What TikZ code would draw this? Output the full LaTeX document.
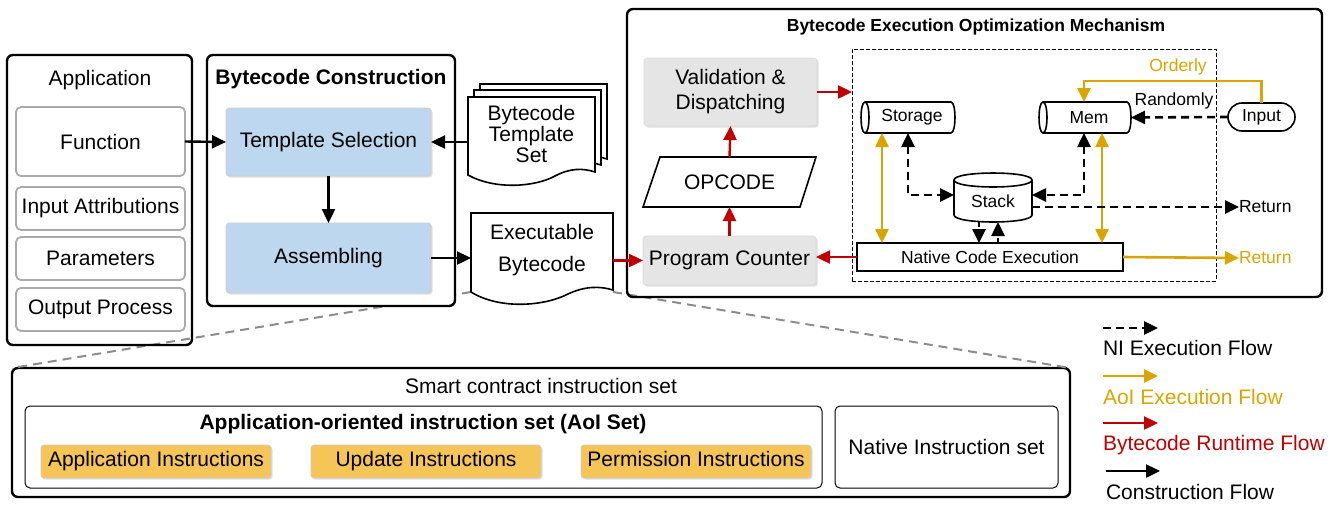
\documentclass[tikz,border=0pt]{standalone}
\usepackage{fontspec}
\setmainfont{Liberation Sans}
\usetikzlibrary{arrows.meta,shadows,calc}
\definecolor{gold}{RGB}{218,165,0}
\definecolor{rred}{RGB}{192,0,0}
\definecolor{lblue}{RGB}{189,215,238}
\definecolor{lgray}{RGB}{229,229,229}
\definecolor{yel}{RGB}{246,197,88}
\definecolor{bgray}{RGB}{170,170,170}
\definecolor{zgray}{RGB}{140,140,140}
\begin{document}
\begin{tikzpicture}[x=1pt,y=-1pt,
  every node/.style={font=\fontsize{21}{24}\selectfont, inner sep=0pt, outer sep=0pt},
  big/.style={draw, line width=2.4pt, rounded corners=6pt},
  inbox/.style={draw=bgray, line width=1.8pt, rounded corners=5pt, fill=white},
  shade/.style={drop shadow={opacity=0.25, shadow xshift=1.5pt, shadow yshift=-1.5pt}},
  bluebox/.style={fill=lblue, draw=gray!40, line width=0.6pt, rounded corners=3pt, shade},
  graybox/.style={fill=lgray, draw=gray!30, line width=0.6pt, rounded corners=3pt, shade},
  yelbox/.style={fill=yel, draw=gray!40, line width=0.6pt, rounded corners=3pt, shade, text height=15pt, text depth=4.5pt},
  thinbox/.style={draw, line width=1pt, rounded corners=5pt},
  small/.style={font=\fontsize{17.5}{20}\selectfont},
  con/.style={line width=2.4pt, -{Triangle[length=14pt,width=13pt]}},
  redc/.style={con, color=rred},
  goldc/.style={line width=2.6pt, color=gold, -{Triangle[length=14pt,width=13pt]}},
  goldd/.style={line width=2.6pt, color=gold, {Triangle[length=14pt,width=13pt]}-{Triangle[length=14pt,width=13pt]}},
  nic/.style={line width=2.6pt, dash pattern=on 8pt off 5pt, -{Triangle[length=14pt,width=13pt]}},
  nicd/.style={line width=2.6pt, dash pattern=on 8pt off 5pt, {Triangle[length=14pt,width=13pt]}-{Triangle[length=14pt,width=13pt]}},
  zoomline/.style={draw=zgray, line width=2pt, dash pattern=on 9pt off 6pt},
]
\useasboundingbox (0,0) rectangle (1344,504);

% ---------- bottom instruction set (named first for zoom lines) ----------
\node[big, minimum width=1058, minimum height=129, anchor=north west, fill=white] (scis) at (12,368) {};

% ---------- Executable Bytecode (node for zoom lines) ----------
\node[minimum width=142, minimum height=79, anchor=north west] (execarea) at (471,213) {};
\draw[zoomline] (execarea.south west) -- (scis.north west);
\draw[zoomline] (execarea.south east) -- (scis.north east);

% ---------- Application ----------
\node[big, minimum width=185, minimum height=290, anchor=north west] (app) at (7,55) {};
\node (apptitle) at (100,80) {Application};
\node[inbox, minimum width=169, minimum height=69, anchor=north west] (func) at (16,107) {Function};
\node[inbox, minimum width=169, minimum height=43, anchor=north west] (inattr) at (16,187) {Input Attributions};
\node[inbox, minimum width=169, minimum height=43, anchor=north west] (params) at (16,237) {Parameters};
\node[inbox, minimum width=169, minimum height=43, anchor=north west] (outp) at (16,288) {Output Process};

% ---------- Bytecode Construction ----------
\node[big, fill=white, minimum width=248, minimum height=251, anchor=north west] (bc) at (207,55) {};
\node[font=\fontsize{21}{24}\selectfont\bfseries] (bctitle) at (331,79) {Bytecode Construction};
\node[bluebox, minimum width=205, minimum height=68, anchor=north west, text height=15pt, text depth=4.5pt] (tsel) at (226,108) {Template Selection};
\node[bluebox, minimum width=205, minimum height=70, anchor=north west, text height=15pt, text depth=4.5pt] (asm) at (226,223) {Assembling};

% ---------- Bytecode Template Set (stacked documents) ----------
\foreach \dx/\dy in {12/-13,6/-7,0/0}{
  \draw[shift={(\dx,\dy)}, fill=white, line width=1.6pt]
    (468,97) -- (595,97) -- (595,172) .. controls (583,168) and (570,168) .. (555,176)
    .. controls (535,187) and (495,190) .. (468,175) -- cycle;
}
\node[align=center, font=\fontsize{21}{21}\selectfont, minimum width=127, minimum height=74, anchor=north west] (tset) at (468,97) {Bytecode\\Template\\Set};

% ---------- Executable Bytecode shape ----------
\draw[fill=white, line width=1.6pt]
  (471,213) -- (613,213) -- (613,290) .. controls (600,286) and (585,286) .. (568,294)
  .. controls (545,306) and (500,310) .. (471,292) -- cycle;
\node[align=center, font=\fontsize{21}{32}\selectfont] (exec) at (542,250) {Executable\\Bytecode};

% ---------- Right panel ----------
\node[big, minimum width=695, minimum height=288, anchor=north west] (bep) at (627,9) {};
\node[font=\fontsize{17.5}{20}\selectfont\bfseries] (beptitle) at (976,27) {Bytecode Execution Optimization Mechanism};
\node[draw, line width=1pt, dash pattern=on 4pt off 2pt, minimum width=364, minimum height=232, anchor=north west] (region) at (852,49) {};

\node[graybox, align=center, font=\fontsize{21}{25}\selectfont, minimum width=173, minimum height=68, anchor=north west] (val) at (644,58) {Validation \&\\Dispatching};
\draw[line width=1.6pt, fill=white] (660,157) -- (816,157) -- (800,207) -- (643,207) -- cycle;
\node[minimum width=173, minimum height=50, anchor=north west] (opc) at (643,157) {OPCODE};
\node[graybox, minimum width=173, minimum height=49, anchor=north west] (pc) at (643,236) {Program Counter};

% Storage cylinder
\draw[line width=1.6pt, fill=white] (865,102) -- (951,102) .. controls (956.3,102) and (956.3,133) .. (951,133)
  -- (865,133) .. controls (859.7,133) and (859.7,102) .. (865,102) -- cycle;
\draw[line width=1.6pt] (865,102) .. controls (870.3,102) and (870.3,133) .. (865,133);
\node[small, minimum width=94, minimum height=31, anchor=north west] (storage) at (861,102) {\hspace{8pt}Storage};

% Mem cylinder
\draw[line width=1.6pt, fill=white] (1043,102) -- (1127,102) .. controls (1132.3,102) and (1132.3,133) .. (1127,133)
  -- (1043,133) .. controls (1037.7,133) and (1037.7,102) .. (1043,102) -- cycle;
\draw[line width=1.6pt] (1043,102) .. controls (1048.3,102) and (1048.3,133) .. (1043,133);
\node[small, minimum width=92, minimum height=31, anchor=north west] (mem) at (1039,102) {\hspace{8pt}Mem};

% Input
\node[small, draw, line width=1.6pt, rounded corners=14pt, fill=white, minimum width=67, minimum height=28, anchor=north west] (input) at (1228,103) {Input};

% Stack cylinder
\draw[line width=1.6pt, fill=white] (954,180) -- (954,215) .. controls (954,224.3) and (1032,224.3) .. (1032,215)
  -- (1032,180) .. controls (1032,170.7) and (954,170.7) .. (954,180) -- cycle;
\draw[line width=1.6pt] (954,180) .. controls (954,189.3) and (1032,189.3) .. (1032,180);
\node[small, minimum width=78, minimum height=42, anchor=north west] (stack) at (954,180) {Stack};

% Native Code Execution
\node[small, draw, line width=1.3pt, fill=white, minimum width=266, minimum height=28, anchor=north west,
  drop shadow={opacity=0.2, shadow xshift=1pt, shadow yshift=-1pt}] (native) at (857,243) {Native Code Execution};

% labels
\node[small, text=gold] (orderly) at (1178,67) {Orderly};
\node[small] (randomly) at (1174,101) {Randomly};
\node[small, anchor=west] (retb) at (1239,207) {Return};
\node[small, text=gold, anchor=west] (retg) at (1239,258) {Return};

% ---------- connectors: construction ----------
\draw[con] (func.east) -- (tsel.west);
\draw[con] (tsel.south) -- (asm.north);
\draw[con] (tset.west |- tsel.east) -- (tsel.east);
\draw[con] (asm.east) -- (asm.east -| execarea.west);

% ---------- runtime (red) ----------
\draw[redc] (execarea.east |- pc.west) -- (pc.west);
\draw[redc] (native.west) -- (native.west -| pc.east);
\draw[redc] (pc.north) -- (opc.south);
\draw[redc] (opc.north) -- (val.south);
\draw[redc] (val.east) -- (val.east -| region.west);

% ---------- AoI (gold) ----------
\draw[goldd] ([xshift=-26pt]storage.south) -- ([xshift=-26pt]storage.south |- native.north);
\draw[goldd] ([xshift=17pt]mem.south) -- ([xshift=17pt]mem.south |- native.north);
\draw[goldc] (input.north) -- ++(0,-22) -| ([xshift=-1pt]mem.north);
\draw[goldc] (native.east) -- (retg.west);

% ---------- NI (dashed) ----------
\draw[nic] (input.west) -- (mem.east);
\draw[nicd] (storage.south) |- ([yshift=6pt]stack.west);
\draw[nicd] ([xshift=-1pt]mem.south) |- ([yshift=6pt]stack.east);
\draw[nic] ([yshift=-6pt]stack.east) -- (retb.west);
\draw[nic, dash pattern=on 5pt off 4pt] ([xshift=-14pt]stack.south) -- ([xshift=-14pt]stack.south |- native.north);
\draw[nic, dash pattern=on 5pt off 4pt] ([xshift=5pt]stack.south |- native.north) -- ([xshift=5pt]stack.south);

% ---------- bottom instruction set contents ----------
\node (scistitle) at (541,386) {Smart contract instruction set};
\node[thinbox, minimum width=797, minimum height=82, anchor=north west] (aoi) at (25,406) {};
\node[font=\fontsize{21}{24}\selectfont\bfseries] (aoititle) at (423,424) {Application-oriented instruction set (AoI Set)};
\node[thinbox, minimum width=223, minimum height=82, anchor=north west] (nis) at (835,406) {Native Instruction set};
\node[yelbox, minimum width=230, minimum height=33, anchor=north west] (appins) at (41,445) {Application Instructions};
\node[yelbox, minimum width=230, minimum height=33, anchor=north west] (updins) at (311,445) {Update Instructions};
\node[yelbox, minimum width=230, minimum height=33, anchor=north west] (permins) at (581,445) {Permission Instructions};

% ---------- legend ----------
\coordinate (l1a) at (1103,328); \coordinate (l1b) at (1158,328);
\coordinate (l2a) at (1103,376); \coordinate (l2b) at (1158,376);
\coordinate (l3a) at (1103,423); \coordinate (l3b) at (1158,423);
\coordinate (l4a) at (1106,471); \coordinate (l4b) at (1160,471);
\draw[nic] (l1a) -- (l1b);
\draw[goldc] (l2a) -- (l2b);
\draw[redc] (l3a) -- (l3b);
\draw[con] (l4a) -- (l4b);
\node[anchor=west] (lg1) at (1103,348) {NI Execution Flow};
\node[anchor=west, text=gold] (lg2) at (1103,397) {AoI Execution Flow};
\node[anchor=west, text=rred] (lg3) at (1103,445) {Bytecode Runtime Flow};
\node[anchor=west] (lg4) at (1106,492) {Construction Flow};
\end{tikzpicture}
\end{document}
